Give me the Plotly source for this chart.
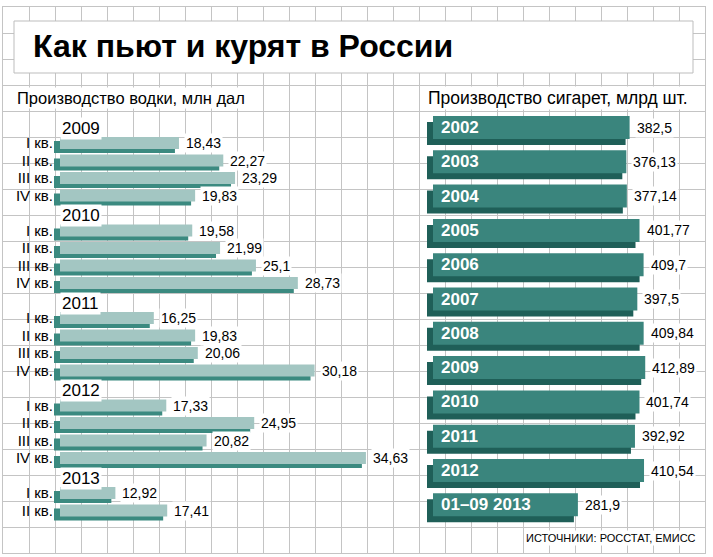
import plotly.graph_objects as go

# Размер картинки
W, H = 713, 557

# Производство водки, млн дал (по кварталам)
vodka_years = ['2009', '2010', '2011', '2012', '2013']
quarter_labels = ['I кв.', 'II кв.', 'III кв.', 'IV кв.']
vodka_2009 = [18.43, 22.27, 23.29, 19.83]
vodka_2010 = [19.58, 21.99, 25.1, 28.73]
vodka_2011 = [16.25, 19.83, 20.06, 30.18]
vodka_2012 = [17.33, 24.95, 20.82, 34.63]
vodka_2013 = [12.92, 17.41]

# Производство сигарет, млрд шт.
cig_labels = ['2002', '2003', '2004', '2005', '2006', '2007', '2008',
              '2009', '2010', '2011', '2012', '01–09 2013']
cig_values = [382.5, 376.13, 377.14, 401.77, 409.7, 397.5, 409.84,
              412.89, 401.74, 392.92, 410.54, 281.9]

FONT = 'Liberation Sans, Arial, sans-serif'
LIGHT = '#a3c6c2'
LIGHT_SIDE = '#3b8a80'
DARK = '#3a857d'
DARK_SIDE = '#1f5f58'
GRID = '#c4c4c4'


def fmt(v):
    return str(v).replace('.', ',')


def dom_x(a, b):
    return [a / W, b / W]


def dom_y(top, bottom):
    return [1 - bottom / H, 1 - top / H]


# раскладка строк левого графика: строка года, затем кварталы
vodka_groups = [vodka_2009, vodka_2010, vodka_2011, vodka_2012, vodka_2013]
year_slots, bar_slots, bar_vals, bar_ticks = [], [], [], []
s = 0
for year, vals in zip(vodka_years, vodka_groups):
    year_slots.append(s)
    s += 1
    for q, v in zip(quarter_labels, vals):
        bar_slots.append(s)
        bar_vals.append(v)
        bar_ticks.append(q)
        s += 1

# масштабы
L_PX = 11.54          # пикселей на млн дал
L_START = 7.6         # значение у левого края (тёмная грань)
L_FACE = L_START + 6 / L_PX
ROW_L = 17.5          # высота строки, px
R_PX = 0.514          # пикселей на млрд шт.
R_START = -6 / R_PX
ROW_R = 34.3

fig = go.Figure()

# фон в клетку
fig.add_trace(go.Scatter(x=[0], y=[0], mode='markers', marker_opacity=0,
                         hoverinfo='skip', showlegend=False))

# водка: тёмная грань + светлая лицевая сторона
fig.add_trace(go.Bar(orientation='h', y=bar_slots,
                     x=[v - 0.35 - L_START for v in bar_vals], base=L_START,
                     width=0.69, offset=-0.345 + 4 / ROW_L,
                     marker=dict(color=LIGHT_SIDE, line_width=0),
                     xaxis='x2', yaxis='y2', showlegend=False, hoverinfo='skip'))
fig.add_trace(go.Bar(orientation='h', y=bar_slots,
                     x=[v - L_FACE for v in bar_vals], base=L_FACE,
                     width=0.69, offset=-0.345,
                     marker=dict(color=LIGHT, line_width=0),
                     xaxis='x2', yaxis='y2', showlegend=False,
                     customdata=bar_vals, hovertemplate='%{customdata}<extra></extra>'))

# сигареты
cig_slots = list(range(len(cig_values)))
fig.add_trace(go.Bar(orientation='h', y=cig_slots,
                     x=[v - 7.8 - R_START for v in cig_values], base=R_START,
                     width=0.67, offset=-0.335 + 6 / ROW_R,
                     marker=dict(color=DARK_SIDE, line_width=0),
                     xaxis='x3', yaxis='y3', showlegend=False, hoverinfo='skip'))
fig.add_trace(go.Bar(orientation='h', y=cig_slots, x=cig_values, base=0,
                     width=0.67, offset=-0.335,
                     marker=dict(color=DARK, line_width=0),
                     xaxis='x3', yaxis='y3', showlegend=False))

annotations = []
# подписи значений водки
for sl, v in zip(bar_slots, bar_vals):
    annotations.append(dict(xref='x2', yref='y2', x=v, y=sl, text=fmt(v),
                            xanchor='left', xshift=5, showarrow=False,
                            bgcolor='white', borderpad=1,
                            font=dict(family=FONT, size=14, color='black')))
# годы
for sl, yr in zip(year_slots, vodka_years):
    annotations.append(dict(xref='x2', yref='y2', x=L_FACE, y=sl + 0.17, text=yr,
                            xanchor='left', showarrow=False,
                            bgcolor='white', borderpad=1,
                            font=dict(family=FONT, size=17, color='black')))
# сигареты: годы внутри полос и значения
for sl, lab, v in zip(cig_slots, cig_labels, cig_values):
    annotations.append(dict(xref='x3', yref='y3', x=0, y=sl, text=lab,
                            xanchor='left', xshift=6, showarrow=False,
                            font=dict(family=FONT, size=17, color='white', weight='bold')))
    annotations.append(dict(xref='x3', yref='y3', x=v, y=sl, text=fmt(v),
                            xanchor='left', xshift=5, showarrow=False,
                            bgcolor='white', borderpad=1,
                            font=dict(family=FONT, size=14, color='black')))

# заголовки
annotations += [
    dict(xref='paper', yref='paper', x=31 / W, y=1 - 46 / H, text='Как пьют и курят в России',
         xanchor='left', yanchor='middle', showarrow=False,
         font=dict(family=FONT, size=32, color='black', weight='bold')),
    dict(xref='paper', yref='paper', x=15 / W, y=1 - 98 / H, text='Производство водки, млн дал',
         xanchor='left', yanchor='middle', showarrow=False, bgcolor='white',
         font=dict(family=FONT, size=16.5, color='black')),
    dict(xref='paper', yref='paper', x=426 / W, y=1 - 98 / H, text='Производство сигарет, млрд шт.',
         xanchor='left', yanchor='middle', showarrow=False, bgcolor='white',
         font=dict(family=FONT, size=17.5, color='black')),
    dict(xref='paper', yref='paper', x=698 / W, y=1 - 538 / H, text='ИСТОЧНИКИ: РОССТАТ, ЕМИСС',
         xanchor='right', yanchor='middle', showarrow=False, bgcolor='white',
         font=dict(family=FONT, size=11, color='black')),
]

fig.update_layout(
    width=W, height=H,
    margin=dict(l=0, r=0, t=0, b=0),
    paper_bgcolor='white', plot_bgcolor='rgba(0,0,0,0)',
    barmode='overlay',
    font=dict(family=FONT, color='black'),
    # клетка
    xaxis=dict(domain=dom_x(3, 705), range=[0, 27], dtick=1, showgrid=True,
               gridcolor=GRID, gridwidth=1, showticklabels=False, zeroline=False,
               showline=True, mirror=True, linecolor=GRID, ticks='', fixedrange=True),
    yaxis=dict(domain=dom_y(7, 553), range=[0, 21], dtick=1, showgrid=True,
               gridcolor=GRID, gridwidth=1, showticklabels=False, zeroline=False,
               showline=True, mirror=True, linecolor=GRID, ticks='', fixedrange=True),
    # водка
    xaxis2=dict(domain=dom_x(54, 400), range=[L_START, L_START + 346 / L_PX],
                visible=False, anchor='y2'),
    yaxis2=dict(domain=dom_y(110, 530),
                range=[(530 - 125.5) / ROW_L, (110 - 125.5) / ROW_L],
                tickvals=bar_slots, ticktext=bar_ticks, showgrid=False,
                zeroline=False, showline=False, ticks='', anchor='x2',
                tickfont=dict(family=FONT, size=15, color='black')),
    # сигареты
    xaxis3=dict(domain=dom_x(427, 705), range=[R_START, R_START + 278 / R_PX],
                visible=False, anchor='y3'),
    yaxis3=dict(domain=dom_y(110, 530),
                range=[(530 - 127.5) / ROW_R, (110 - 127.5) / ROW_R],
                visible=False, anchor='x3'),
    shapes=[dict(type='rect', xref='paper', yref='paper', layer='above',
                 x0=14 / W, x1=693 / W, y0=1 - 73 / H, y1=1 - 21 / H,
                 fillcolor='white', line=dict(color='#bdbdbd', width=1))],
    annotations=annotations,
)

# убираем стандартный отступ страницы, чтобы рисунок встал в окно целиком
fig.write_html('out.html', config={'displayModeBar': False},
               post_script="document.body.style.margin='0';")
